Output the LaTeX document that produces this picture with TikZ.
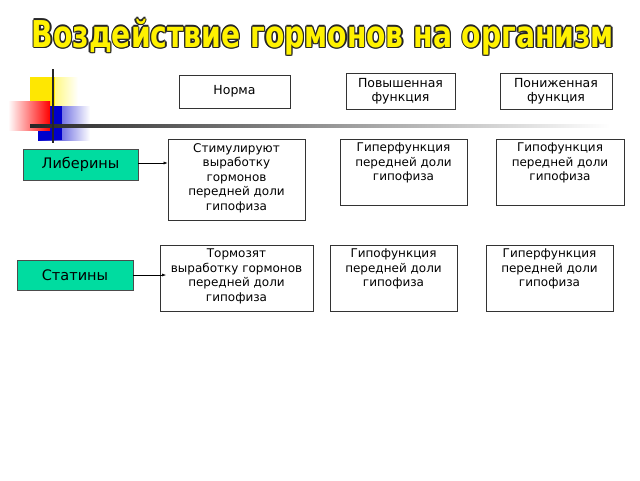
\documentclass[tikz,border=0pt]{standalone}
\usepackage{fontspec}
\setmainfont{DejaVu Sans}
\newfontfamily\titlefont{DejaVu Sans Condensed Bold}
\usetikzlibrary{arrows.meta}
\definecolor{teal1}{RGB}{0,220,160}
\begin{document}
\begin{tikzpicture}[x=1pt,y=-1pt,
  box/.style={draw=black!80,line width=0.8pt,fill=white,align=center,inner sep=0pt,font=\fontsize{12.5}{14.5}\selectfont},
  txt/.style={align=center,font=\fontsize{12}{14.5}\selectfont,anchor=north,inner sep=0pt},
  gbox/.style={draw=black!70,line width=0.8pt,fill=teal1,font=\fontsize{14.5}{16}\selectfont,inner sep=0pt},
  ttl/.style={font=\titlefont\fontsize{33}{35}\selectfont,xscale=0.95,yscale=1.12},
  arr/.style={-{Latex[length=4pt,width=3pt]},line width=0.5pt}]
\useasboundingbox[fill=white] (0,0) rectangle (640,480);
% title
\foreach \dx/\dy in {-1.3/0,1.3/0,0/-1.3,0/1.3,-0.9/-0.9,0.9/0.9,-0.9/0.9,0.9/-0.9}
  \node[ttl,text=black!85] at (323+\dx,37+\dy) {Воздействие гормонов на организм};
\node[ttl,text=yellow] (title) at (323,37) {Воздействие гормонов на организм};
% decoration
\shade[left color=yellow!90!orange,right color=white] (30,77) rectangle (78,125);
\fill[yellow!90!orange] (30,77) rectangle (55,125);
\shade[left color=blue!80!black,right color=white] (38,106) rectangle (90,140);
\fill[blue!80!black] (38,106) rectangle (62,140);
\shade[left color=white,right color=red] (8,101) rectangle (50,130);
\shade[left color=black!85,right color=white] (30,124) rectangle (610,127);
\draw[line width=1.5pt,black!85] (53,69) -- (53,143);
% headers
\node[box,minimum width=111pt,minimum height=33pt] (norma) at (234.5,91.5) {Норма};
\node[box,minimum width=109pt,minimum height=36pt] (pov) at (400.5,91) {Повышенная\\функция};
\node[box,minimum width=112pt,minimum height=36pt] (pon) at (556,91) {Пониженная\\функция};
% row 1
\node[gbox,minimum width=115pt,minimum height=31pt] (lib) at (80.5,164.5) {Либерины};
\node[box,minimum width=137pt,minimum height=81pt] (stim) at (236.5,179.5) {};
\node[txt] at (236.5,143) {Стимулируют\\выработку\\гормонов\\передней доли\\гипофиза};
\node[box,minimum width=127pt,minimum height=66pt] (hyp1) at (403.5,172) {};
\node[txt] at (403.5,143) {Гиперфункция\\передней доли\\гипофиза};
\node[box,minimum width=128pt,minimum height=66pt] (hypo1) at (560,172) {};
\node[txt] at (560,143) {Гипофункция\\передней доли\\гипофиза};
\draw[arr] (lib.east |- 0,163) -- (stim.west |- 0,163);
% row 2
\node[gbox,minimum width=116pt,minimum height=30pt] (stat) at (75,275) {Статины};
\node[box,minimum width=153pt,minimum height=66pt] (torm) at (236.5,278) {};
\node[txt] at (236.5,249) {Тормозят\\выработку гормонов\\передней доли\\гипофиза};
\node[box,minimum width=127pt,minimum height=66pt] (hypo2) at (393.5,278) {};
\node[txt] at (393.5,249) {Гипофункция\\передней доли\\гипофиза};
\node[box,minimum width=127pt,minimum height=66pt] (hyp2) at (549.5,278) {};
\node[txt] at (549.5,249) {Гиперфункция\\передней доли\\гипофиза};
\draw[arr] (stat.east |- 0,275) -- (166,275);
\end{tikzpicture}
\end{document}
